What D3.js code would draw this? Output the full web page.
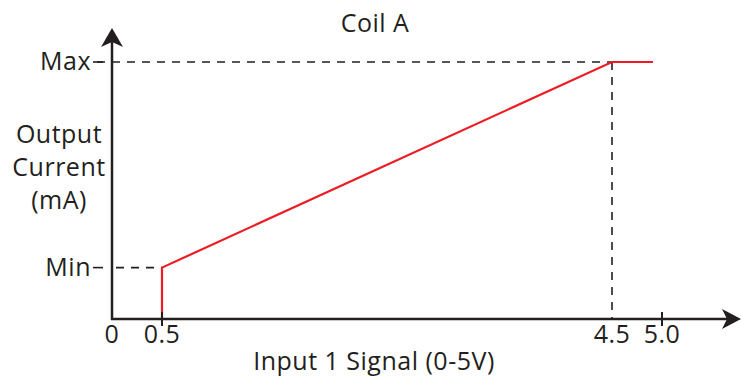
<!DOCTYPE html>
<html><head><meta charset="utf-8">
<script src="https://cdn.jsdelivr.net/npm/d3@7"></script>
<style>body{margin:0;background:#fff}svg{display:block}text{font-family:"Open Sans",sans-serif;fill:#231f20;letter-spacing:0.5px}</style>
</head><body><svg id="c" width="741" height="377"></svg>
<script>
const title = "Coil A";
const xLabel = "Input 1 Signal (0-5V)";
const yLabelLines = ["Output", "Current", "(mA)"];
const xTickValues = [0, 0.5, 4.5, 5.0];
const xTickLabels = ["0", "0.5", "4.5", "5.0"];
const yTickValues = [0.2, 1];
const yTickLabels = ["Min", "Max"];
const curveX = [0.5, 0.5, 4.5, 4.91];
const curveY = [0, 0.2, 1, 1];

const svg = d3.select("#c");
const x = d3.scaleLinear().domain([0, 0.5, 4.5, 5.0]).range([112, 162, 612, 662]);
const y = d3.scaleLinear().domain([0, 1]).range([319, 62]);
const ink = "#231f20";
const fs = 25;

// dashed guides
const dash = svg.append("g").attr("stroke", ink).attr("stroke-width", 1.6).attr("stroke-dasharray", "8,7");
dash.append("line").attr("x1", 97).attr("x2", x(4.5)).attr("y1", y(1)).attr("y2", y(1));
dash.append("line").attr("x1", x(0)+4).attr("x2", x(0.5)).attr("y1", y(0.2)).attr("y2", y(0.2));
dash.append("line").attr("x1", x(4.5)).attr("x2", x(4.5)).attr("y1", y(1)).attr("y2", y(0));

// axes
svg.append("line").attr("x1", x(0)).attr("x2", x(0)).attr("y1", y(0)+1).attr("y2", 40).attr("stroke", ink).attr("stroke-width", 2.5);
svg.append("line").attr("x1", x(0)-1).attr("x2", 728).attr("y1", y(0)).attr("y2", y(0)).attr("stroke", ink).attr("stroke-width", 2.5);
svg.append("path").attr("d", `M${x(0)},28 L${x(0)+11},47 L${x(0)},42 L${x(0)-11},47 Z`).attr("fill", ink);
svg.append("path").attr("d", `M741,${y(0)} L722,${y(0)-10} L727,${y(0)} L722,${y(0)+10} Z`).attr("fill", ink);

// curve
const pts = curveX.map((d, i) => [x(d), y(curveY[i])]);
svg.append("path").attr("d", d3.line()(pts)).attr("fill", "none").attr("stroke", "#ed1c24").attr("stroke-width", 2.2);

// x ticks
xTickValues.forEach((v, i) => {
  if (v !== 0 && v !== 4.5) svg.append("line").attr("x1", x(v)).attr("x2", x(v)).attr("y1", y(0)-7).attr("y2", y(0)+7).attr("stroke", ink).attr("stroke-width", 2);
  svg.append("text").attr("x", x(v)).attr("y", 343).attr("text-anchor", "middle").attr("font-size", fs).text(xTickLabels[i]);
});
// y ticks
yTickValues.forEach((v, i) => {
  svg.append("line").attr("x1", 93).attr("x2", 103).attr("y1", y(v)).attr("y2", y(v)).attr("stroke", ink).attr("stroke-width", 1.6);
  svg.append("text").attr("x", 91).attr("y", y(v)+8).attr("text-anchor", "end").attr("font-size", fs).text(yTickLabels[i]);
});

svg.append("text").attr("x", 375).attr("y", 32).attr("text-anchor", "middle").attr("font-size", fs).text(title);
svg.append("text").attr("x", 374).attr("y", 370).attr("text-anchor", "middle").attr("font-size", fs).text(xLabel);
yLabelLines.forEach((t, i) => svg.append("text").attr("x", 59).attr("y", 143 + i*33).attr("text-anchor", "middle").attr("font-size", fs).text(t));
</script></body></html>
